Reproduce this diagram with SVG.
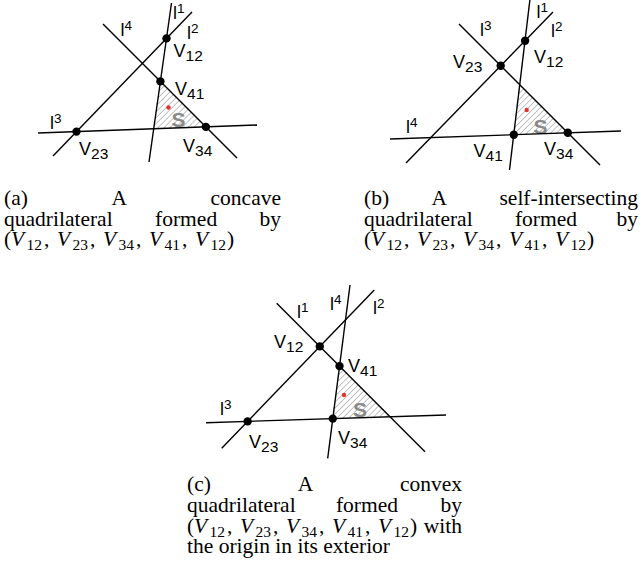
<svg xmlns="http://www.w3.org/2000/svg" width="642" height="571" viewBox="0 0 642 571">
<style>
.ln{stroke:#000;stroke-width:1.4;fill:none;stroke-linecap:butt}
.dot{fill:#000}
.lab{font-family:"Liberation Sans",Arial,sans-serif;font-size:18px;fill:#000}
.sub{font-size:15.5px}
.sup{font-size:13.5px}
.S{font-family:"Liberation Sans",Arial,sans-serif;font-size:21px;font-weight:bold;fill:#8a8a8a}
.red{fill:#e8302a}
.cap{font-family:"Liberation Serif","Times New Roman",serif;font-size:21.5px;fill:#000}
.mi{font-style:italic}
.ms{font-size:15.5px}
</style>
<defs>
<pattern id="hatch" patternUnits="userSpaceOnUse" width="4.2" height="4.2" patternTransform="rotate(45)">
<line x1="0" y1="0" x2="0" y2="4.2" stroke="#7a7a7a" stroke-width="0.9"/>
</pattern>
</defs>
<rect width="642" height="571" fill="#fff"/>

<!-- Panel (a) -->
<g id="panel-a">
<polygon points="160.4,81.4 153.7,128.8 205.9,126.9" fill="url(#hatch)"/>
<text class="S" x="171.5" y="126.5">S</text>
<circle class="red" cx="168.5" cy="107.5" r="2.2"/>
<g id="a-connectors">
<line class="ln" x1="171.5" y1="3" x2="149" y2="162"/>
<line class="ln" x1="192" y1="12" x2="53" y2="156"/>
<line class="ln" x1="103" y1="24" x2="237" y2="158"/>
<line class="ln" x1="38" y1="133" x2="257" y2="125"/>
<text class="lab" x="173" y="19">l<tspan class="sup" dy="-6">1</tspan></text>
<text class="lab" x="187" y="39">l<tspan class="sup" dy="-6">2</tspan></text>
<text class="lab" x="50" y="128.5">l<tspan class="sup" dy="-6">3</tspan></text>
<text class="lab" x="120.5" y="35.5">l<tspan class="sup" dy="-6">4</tspan></text>
</g>
<g id="a-V12"><circle class="dot" cx="166.5" cy="38.4" r="4.2"/><text class="lab" x="173.5" y="57">V<tspan class="sub" dy="4">12</tspan></text></g>
<g id="a-V41"><circle class="dot" cx="160.4" cy="81.4" r="4.2"/><text class="lab" x="175" y="95">V<tspan class="sub" dy="4">41</tspan></text></g>
<g id="a-V23"><circle class="dot" cx="76.5" cy="131.6" r="4.2"/><text class="lab" x="79" y="154.5">V<tspan class="sub" dy="4">23</tspan></text></g>
<g id="a-V34"><circle class="dot" cx="205.9" cy="126.9" r="4.2"/><text class="lab" x="183" y="151.5">V<tspan class="sub" dy="4">34</tspan></text></g>
</g>

<!-- Panel (b) -->
<g id="panel-b">
<polygon points="519.8,84.8 513.8,134.7 567.8,132.8" fill="url(#hatch)"/>
<text class="S" x="533.5" y="134">S</text>
<circle class="red" cx="526.7" cy="110" r="2.2"/>
<g id="b-connectors">
<line class="ln" x1="530" y1="-1" x2="509.5" y2="170"/>
<line class="ln" x1="553" y1="12" x2="406" y2="163"/>
<line class="ln" x1="459" y1="24" x2="600" y2="165"/>
<line class="ln" x1="390" y1="139" x2="621" y2="131"/>
<text class="lab" x="536.5" y="18">l<tspan class="sup" dy="-6">1</tspan></text>
<text class="lab" x="551" y="36.5">l<tspan class="sup" dy="-6">2</tspan></text>
<text class="lab" x="480" y="36">l<tspan class="sup" dy="-6">3</tspan></text>
<text class="lab" x="406" y="133">l<tspan class="sup" dy="-6">4</tspan></text>
</g>
<g id="b-V12"><circle class="dot" cx="525.1" cy="40.7" r="4.2"/><text class="lab" x="534" y="63">V<tspan class="sub" dy="4">12</tspan></text></g>
<g id="b-V23"><circle class="dot" cx="500.7" cy="65.7" r="4.2"/><text class="lab" x="453" y="68">V<tspan class="sub" dy="4">23</tspan></text></g>
<g id="b-V41"><circle class="dot" cx="513.8" cy="134.7" r="4.2"/><text class="lab" x="473.5" y="156.5">V<tspan class="sub" dy="4">41</tspan></text></g>
<g id="b-V34"><circle class="dot" cx="567.8" cy="132.8" r="4.2"/><text class="lab" x="544" y="155">V<tspan class="sub" dy="4">34</tspan></text></g>
</g>

<!-- Panel (c) -->
<g id="panel-c">
<polygon points="339.5,366.1 332.8,418.6 390.4,416.8" fill="url(#hatch)"/>
<text class="S" x="353" y="416.5">S</text>
<circle class="red" cx="344" cy="395" r="2.2"/>
<g id="c-connectors">
<line class="ln" x1="276.7" y1="303.3" x2="425" y2="451.7"/>
<line class="ln" x1="374.3" y1="290" x2="221.7" y2="448.3"/>
<line class="ln" x1="206" y1="422.7" x2="446" y2="415"/>
<line class="ln" x1="350" y1="285" x2="327.7" y2="458.3"/>
<text class="lab" x="297" y="318">l<tspan class="sup" dy="-6">1</tspan></text>
<text class="lab" x="373" y="314">l<tspan class="sup" dy="-6">2</tspan></text>
<text class="lab" x="220" y="415">l<tspan class="sup" dy="-6">3</tspan></text>
<text class="lab" x="330" y="310">l<tspan class="sup" dy="-6">4</tspan></text>
</g>
<g id="c-V12"><circle class="dot" cx="319.8" cy="346.4" r="4.2"/><text class="lab" x="274" y="348">V<tspan class="sub" dy="4">12</tspan></text></g>
<g id="c-V41"><circle class="dot" cx="339.5" cy="366.1" r="4.2"/><text class="lab" x="348" y="372">V<tspan class="sub" dy="4">41</tspan></text></g>
<g id="c-V23"><circle class="dot" cx="247.6" cy="421.4" r="4.2"/><text class="lab" x="249" y="448">V<tspan class="sub" dy="4">23</tspan></text></g>
<g id="c-V34"><circle class="dot" cx="332.8" cy="418.6" r="4.2"/><text class="lab" x="338" y="444">V<tspan class="sub" dy="4">34</tspan></text></g>
</g>

<!-- Captions -->
<g id="caption-a" class="cap">
<text x="4" y="205">(a)</text>
<text x="119.3" y="205" text-anchor="middle">A</text>
<text x="281" y="205" text-anchor="end">concave</text>
<text x="4" y="225.5">quadrilateral</text>
<text x="186.1" y="225.5" text-anchor="middle">formed</text>
<text x="281" y="225.5" text-anchor="end">by</text>
<text x="4" y="246">(<tspan class="mi" x="11">V</tspan><tspan class="ms" x="26.5" dy="4">12</tspan><tspan x="44" dy="-4">,</tspan><tspan class="mi" x="57">V</tspan><tspan class="ms" x="72.5" dy="4">23</tspan><tspan x="90" dy="-4">,</tspan><tspan class="mi" x="103">V</tspan><tspan class="ms" x="118.5" dy="4">34</tspan><tspan x="136" dy="-4">,</tspan><tspan class="mi" x="149">V</tspan><tspan class="ms" x="164.5" dy="4">41</tspan><tspan x="182" dy="-4">,</tspan><tspan class="mi" x="195">V</tspan><tspan class="ms" x="210.5" dy="4">12</tspan><tspan x="227" dy="-4">)</tspan></text>
</g>
<g id="caption-b" class="cap">
<text x="364" y="205">(b)</text>
<text x="439.2" y="205" text-anchor="middle">A</text>
<text x="638" y="205" text-anchor="end">self-intersecting</text>
<text x="364" y="225.5">quadrilateral</text>
<text x="546" y="225.5" text-anchor="middle">formed</text>
<text x="638" y="225.5" text-anchor="end">by</text>
<text x="364" y="246">(<tspan class="mi" x="371">V</tspan><tspan class="ms" x="386.5" dy="4">12</tspan><tspan x="404" dy="-4">,</tspan><tspan class="mi" x="417">V</tspan><tspan class="ms" x="432.5" dy="4">23</tspan><tspan x="450" dy="-4">,</tspan><tspan class="mi" x="463">V</tspan><tspan class="ms" x="478.5" dy="4">34</tspan><tspan x="496" dy="-4">,</tspan><tspan class="mi" x="509">V</tspan><tspan class="ms" x="524.5" dy="4">41</tspan><tspan x="542" dy="-4">,</tspan><tspan class="mi" x="555">V</tspan><tspan class="ms" x="570.5" dy="4">12</tspan><tspan x="587" dy="-4">)</tspan></text>
</g>
<g id="caption-c" class="cap">
<text x="187" y="491">(c)</text>
<text x="305.4" y="491" text-anchor="middle">A</text>
<text x="462" y="491" text-anchor="end">convex</text>
<text x="187" y="511.5">quadrilateral</text>
<text x="367" y="511.5" text-anchor="middle">formed</text>
<text x="462" y="511.5" text-anchor="end">by</text>
<text x="187" y="532.5">(<tspan class="mi" x="194">V</tspan><tspan class="ms" x="209.5" dy="4">12</tspan><tspan x="227" dy="-4">,</tspan><tspan class="mi" x="240">V</tspan><tspan class="ms" x="255.5" dy="4">23</tspan><tspan x="273" dy="-4">,</tspan><tspan class="mi" x="286">V</tspan><tspan class="ms" x="301.5" dy="4">34</tspan><tspan x="319" dy="-4">,</tspan><tspan class="mi" x="332">V</tspan><tspan class="ms" x="347.5" dy="4">41</tspan><tspan x="365" dy="-4">,</tspan><tspan class="mi" x="378">V</tspan><tspan class="ms" x="393.5" dy="4">12</tspan><tspan x="410" dy="-4">)</tspan></text>
<text x="462" y="532.5" text-anchor="end">with</text>
<text x="187" y="553">the origin in its exterior</text>
</g>
</svg>
